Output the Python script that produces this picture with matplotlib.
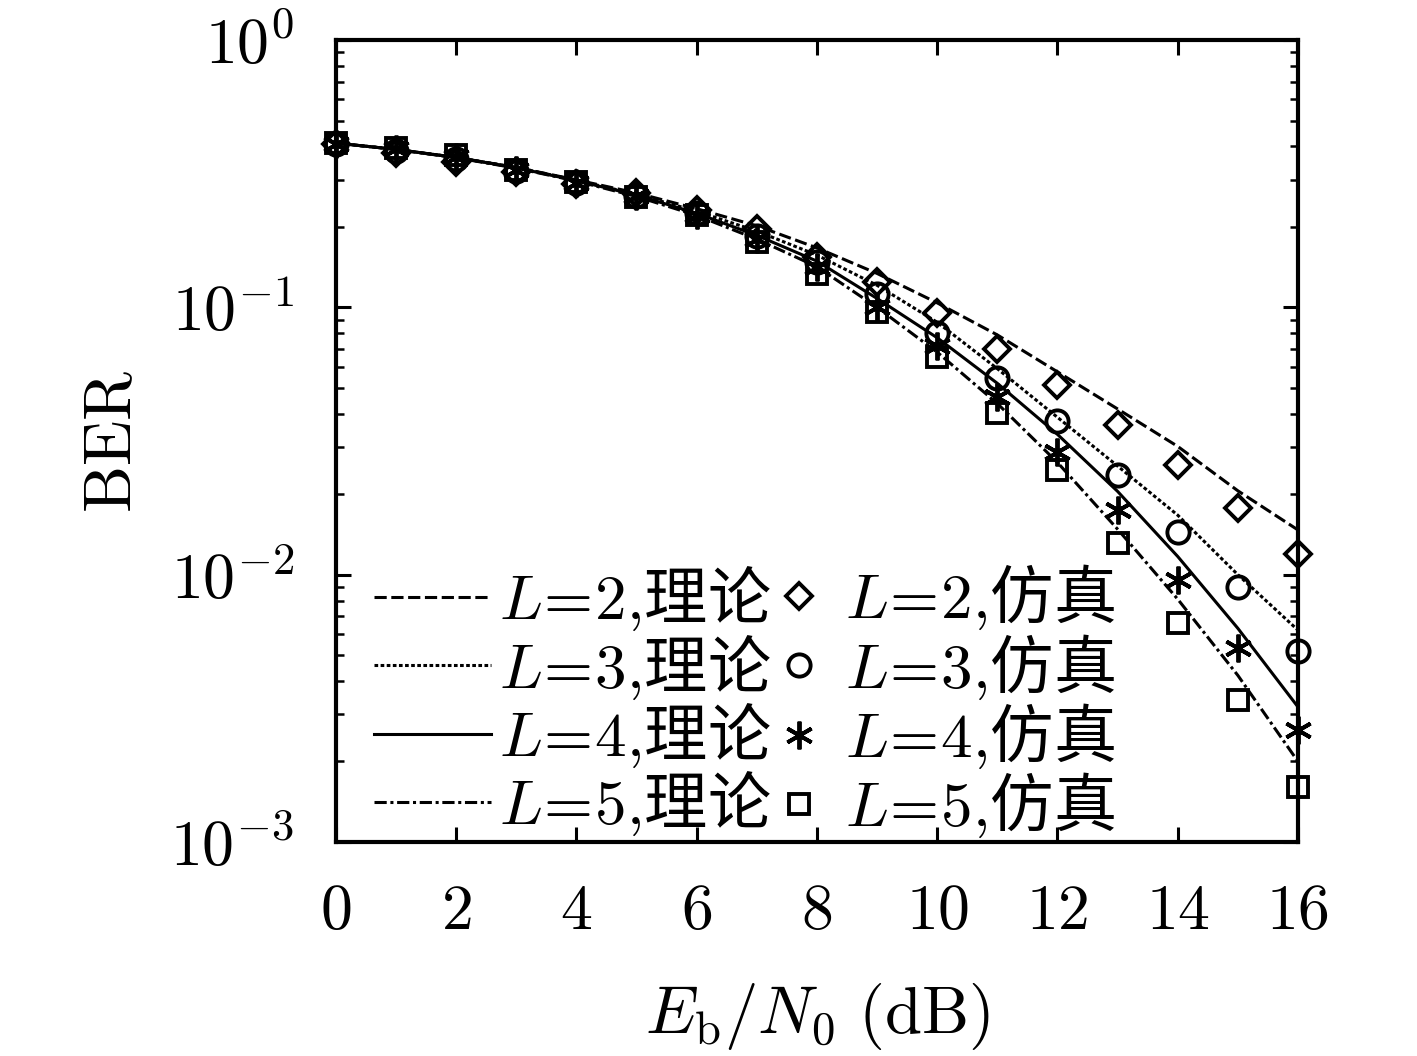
import matplotlib
matplotlib.use("Agg")
import matplotlib.pyplot as plt
from matplotlib.ticker import FixedLocator, LogLocator, NullFormatter

plt.rcParams['font.family'] = ['DejaVu Serif', 'Noto Sans CJK SC']
# custom math fonts: Computer Modern for latin, Noto CJK via \mathsf for Chinese
plt.rcParams['mathtext.fontset'] = 'custom'
plt.rcParams['mathtext.rm'] = 'cmr10'
plt.rcParams['mathtext.it'] = 'cmmi10'
plt.rcParams['mathtext.sf'] = 'Noto Sans CJK SC'
plt.rcParams['mathtext.fallback'] = 'cm'

# Eb/N0 in dB
snr = [0, 1, 2, 3, 4, 5, 6, 7, 8, 9, 10, 11, 12, 13, 14, 15, 16]

# theory curves
ber_th_L2 = [0.412, 0.390, 0.364, 0.334, 0.300, 0.268, 0.234, 0.202, 0.167, 0.134,
             0.104, 0.0789, 0.0574, 0.0417, 0.0302, 0.0206, 0.0147]
ber_th_L3 = [0.412, 0.390, 0.364, 0.334, 0.299, 0.265, 0.229, 0.193, 0.157, 0.121,
             0.088, 0.059, 0.0388, 0.0255, 0.0167, 0.0100, 0.0062]
ber_th_L4 = [0.412, 0.390, 0.364, 0.333, 0.298, 0.263, 0.225, 0.186, 0.149, 0.108,
             0.077, 0.052, 0.0335, 0.0205, 0.0117, 0.0063, 0.0032]
ber_th_L5 = [0.412, 0.390, 0.363, 0.332, 0.297, 0.260, 0.221, 0.180, 0.142, 0.100,
             0.068, 0.0437, 0.0263, 0.0148, 0.0081, 0.0042, 0.0020]

# simulation points
ber_sim_L2 = [0.410, 0.378, 0.350, 0.322, 0.289, 0.268, 0.232, 0.196, 0.155, 0.125,
              0.0952, 0.0697, 0.0512, 0.0363, 0.0257, 0.0177, 0.0120]
ber_sim_L3 = [0.410, 0.385, 0.360, 0.325, 0.292, 0.262, 0.225, 0.185, 0.148, 0.112,
              0.080, 0.0546, 0.0375, 0.0236, 0.0145, 0.0090, 0.0052]
ber_sim_L4 = [0.410, 0.390, 0.365, 0.326, 0.293, 0.260, 0.222, 0.180, 0.142, 0.1005,
              0.0717, 0.0462, 0.0288, 0.0174, 0.00955, 0.0053, 0.00262]
ber_sim_L5 = [0.412, 0.394, 0.372, 0.326, 0.295, 0.259, 0.221, 0.176, 0.133, 0.0963,
              0.0654, 0.0401, 0.0246, 0.0131, 0.00657, 0.00341, 0.00161]

th_labels = [r'$L\!=\!2{,}\mathsf{理论}$', r'$L\!=\!3{,}\mathsf{理论}$',
             r'$L\!=\!4{,}\mathsf{理论}$', r'$L\!=\!5{,}\mathsf{理论}$']
sim_labels = [r'$L\!=\!2{,}\mathsf{仿真}$', r'$L\!=\!3{,}\mathsf{仿真}$',
              r'$L\!=\!4{,}\mathsf{仿真}$', r'$L\!=\!5{,}\mathsf{仿真}$']

fig = plt.figure(figsize=(14.17, 10.56), dpi=100)
ax = fig.add_axes([0.237, 0.2027, 0.679, 0.7593])

lw = 2.2
styles = [(0, (4, 1.5)), (0, (1.2, 0.8)), '-', (0, (4, 1.2, 1, 1.2))]
th_data = [ber_th_L2, ber_th_L3, ber_th_L4, ber_th_L5]
sim_data = [ber_sim_L2, ber_sim_L3, ber_sim_L4, ber_sim_L5]
markers = ['D', 'o', (6, 2, 0), 's']
msizes = [13.5, 16, 20, 15]

th_handles = []
for d, ls in zip(th_data, styles):
    h, = ax.plot(snr, d, color='black', linestyle=ls, linewidth=lw)
    th_handles.append(h)

sim_handles = []
for d, m, ms in zip(sim_data, markers, msizes):
    h, = ax.plot(snr, d, linestyle='none', marker=m, markersize=ms,
                 markerfacecolor='none', markeredgecolor='black', markeredgewidth=2.8,
                 clip_on=False, zorder=3)
    sim_handles.append(h)

ax.set_yscale('log')
ax.set_xlim(0, 16)
ax.set_ylim(1e-3, 1)

ax.xaxis.set_major_locator(FixedLocator(range(0, 17, 2)))
ax.set_xticklabels(['$%d$' % v for v in range(0, 17, 2)])
ax.yaxis.set_major_locator(FixedLocator([1e-3, 1e-2, 1e-1, 1]))
ax.set_yticklabels([r'$10^{-3}$', r'$10^{-2}$', r'$10^{-1}$', r'$10^{0}$'])
ax.yaxis.set_minor_locator(LogLocator(base=10, subs=range(2, 10)))
ax.yaxis.set_minor_formatter(NullFormatter())
ax.xaxis.set_minor_locator(FixedLocator([]))

ax.tick_params(which='both', direction='in', top=True, right=True, labelsize=46)
ax.tick_params(which='major', length=11, width=2.2)
ax.tick_params(which='minor', length=6, width=1.8)
ax.tick_params(axis='x', pad=28)
ax.tick_params(axis='y', pad=30)
for sp in ax.spines.values():
    sp.set_linewidth(3)

ax.set_xlabel(r'$E_\mathrm{b}/N_0\ \mathrm{(dB)}$', fontsize=48, labelpad=28)
ax.set_ylabel(r'$\mathrm{BER}$', fontsize=48, labelpad=18)

leg1 = ax.legend(th_handles, th_labels, loc='center left', bbox_to_anchor=(0.04, 0.175),
                 frameon=False, fontsize=45.5, handlelength=1.85, handletextpad=0.12,
                 labelspacing=0.0, borderpad=0, borderaxespad=0)
ax.add_artist(leg1)
ax.legend(sim_handles, sim_labels, loc='center left', bbox_to_anchor=(0.45, 0.175),
          frameon=False, fontsize=45.5, handlelength=0.95, handletextpad=0.25,
          labelspacing=0.0, borderpad=0, borderaxespad=0)

fig.savefig('out.png', dpi=100, facecolor='white')
